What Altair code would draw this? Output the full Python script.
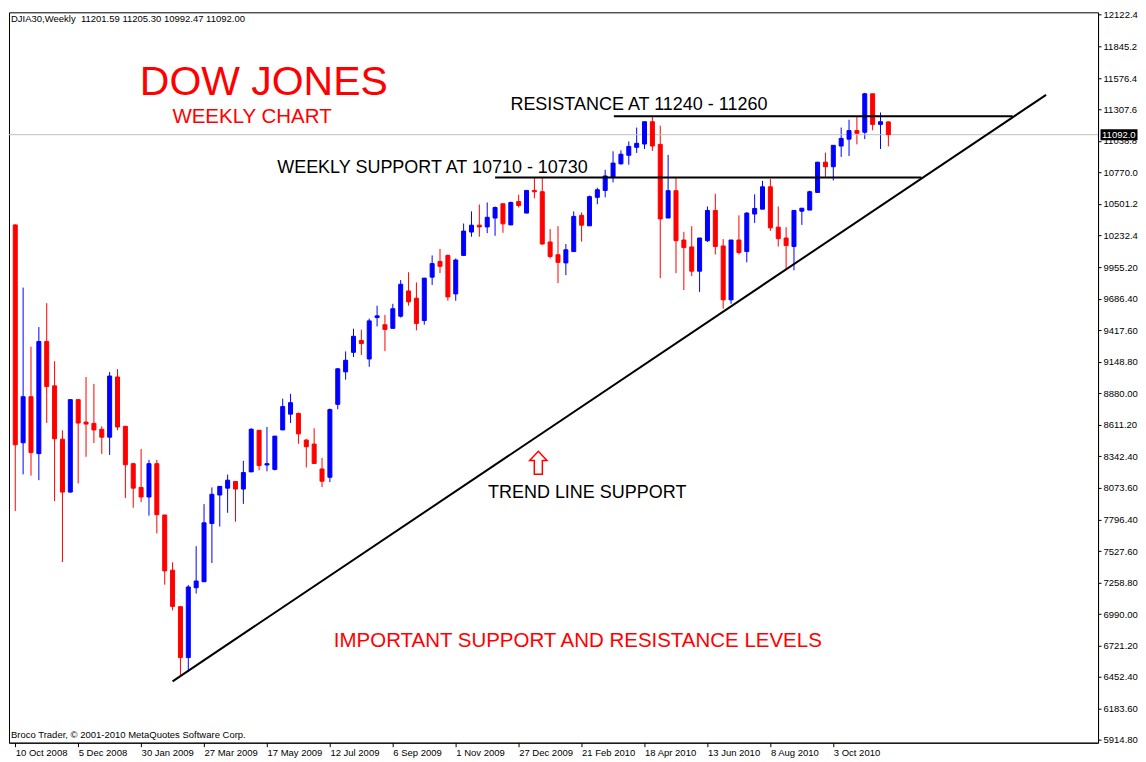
import json
import altair as alt
import pandas as pd

# ---------------- data ----------------
date_labels = ["10 Oct 2008", "5 Dec 2008", "30 Jan 2009", "27 Mar 2009", "17 May 2009",
               "12 Jul 2009", "6 Sep 2009", "1 Nov 2009", "27 Dec 2009", "21 Feb 2010",
               "18 Apr 2010", "13 Jun 2010", "8 Aug 2010", "3 Oct 2010"]

opens = [10320, 8456, 8850, 8363, 9322, 8943, 8487, 8034, 8825, 8633,
         8622, 8572, 8504, 9019, 8597, 8277, 8074, 7992, 8277, 7838,
         7366, 7054, 6618, 7216, 7267, 7765, 8009, 8068, 8125, 8060,
         8207, 8563, 8266, 8228, 8566, 8701, 8707, 8479, 8445, 8232,
         8161, 8785, 9063, 9230, 9331, 9173, 9527, 9466, 9435, 9539,
         9755, 9693, 9502, 9873, 10008, 10059, 9730, 10059, 10259, 10318,
         10303, 10379, 10501, 10320, 10520, 10421, 10615, 10604, 10174, 10065,
         9995, 10092, 10402, 10312, 10556, 10615, 10725, 10843, 10916, 10984,
         11012, 11203, 11009, 10379, 10613, 10191, 10132, 9924, 10185, 10444,
         10140, 9679, 10191, 10092, 10413, 10455, 10646, 10301, 10208, 10135,
         10438, 10447, 10598, 10857, 10818, 10995, 11054, 11127, 11113, 11442,
         11180, 11201.59]
highs = [10325, 9784, 9278, 9446, 9651, 9154, 8563, 8830, 8830, 9019,
         8960, 8597, 9061, 9086, 8597, 8285, 8403, 8310, 8310, 7840,
         7433, 7054, 7239, 7571, 7931, 8074, 8083, 8184, 8125, 8302,
         8580, 8563, 8591, 8513, 8833, 8875, 8715, 8490, 8580, 8327,
         8749, 9095, 9238, 9432, 9424, 9519, 9629, 9550, 9645, 9848,
         9915, 9828, 9865, 10059, 10115, 10067, 10033, 10332, 10436, 10495,
         10512, 10478, 10501, 10520, 10579, 10615, 10725, 10725, 10284, 10309,
         10157, 10436, 10427, 10571, 10638, 10792, 10950, 10959, 11034, 11153,
         11203, 11245, 11169, 10919, 10722, 10261, 10309, 10208, 10478, 10587,
         10199, 10191, 10402, 10430, 10582, 10697, 10714, 10478, 10301, 10444,
         10463, 10613, 10857, 10939, 11001, 11153, 11220, 11245, 11450, 11442,
         11282, 11205.30]
lows = [7872, 8186, 8175, 8136, 8625, 7956, 7436, 8030, 8108, 8336,
        8454, 8361, 8352, 8563, 7984, 7900, 7948, 7832, 7680, 7242,
        7022, 6457, 6494, 7166, 7267, 7427, 7739, 7857, 7781, 7933,
        8207, 8220, 8212, 8220, 8566, 8625, 8448, 8245, 8279, 8077,
        8119, 8743, 8996, 9190, 9207, 9106, 9451, 9241, 9435, 9527,
        9629, 9418, 9466, 9806, 9907, 9671, 9671, 10059, 10219, 10219,
        10250, 10227, 10253, 10320, 10469, 10421, 10548, 10149, 10033, 9822,
        9890, 10092, 10177, 10312, 10497, 10556, 10683, 10835, 10835, 10936,
        10970, 10953, 9865, 10379, 9907, 9763, 9882, 9747, 10174, 10067,
        9603, 9645, 10067, 10000, 10337, 10455, 10269, 10135, 9936, 9932,
        10320, 10447, 10598, 10722, 10700, 10902, 10910, 11009, 11054, 11130,
        10970, 10992.47]
closes = [8439, 8850, 8372, 9322, 8937, 8490, 8034, 8825, 8625, 8616,
          8566, 8504, 9027, 8591, 8268, 8068, 7992, 8277, 7841, 7360,
          7056, 6618, 7222, 7273, 7771, 8015, 8083, 8136, 8060, 8201,
          8572, 8262, 8277, 8513, 8766, 8799, 8532, 8422, 8279, 8127,
          8740, 9089, 9162, 9367, 9305, 9499, 9542, 9426, 9603, 9812,
          9662, 9477, 9865, 9989, 9966, 9704, 10020, 10267, 10318, 10303,
          10385, 10469, 10329, 10512, 10486, 10615, 10604, 10157, 10050, 10000,
          10107, 10393, 10318, 10562, 10621, 10739, 10849, 10925, 10992, 11018,
          11203, 10995, 10371, 10613, 10185, 10126, 9924, 10208, 10444, 10135,
          9679, 10191, 10084, 10421, 10461, 10646, 10295, 10202, 10143, 10444,
          10463, 10604, 10857, 10818, 11001, 11060, 11127, 11104, 11442, 11180,
          11203, 11092.00]

y_ticks = [12122.4, 11845.2, 11576.4, 11307.6, 11038.8, 10770.0, 10501.2, 10232.4,
           9955.2, 9686.4, 9417.6, 9148.8, 8880.0, 8611.2, 8342.4, 8073.6, 7796.4,
           7527.6, 7258.8, 6990.0, 6721.2, 6452.4, 6183.6, 5914.8]

last_price = 11092.0
header = "DJIA30,Weekly\u00a0 11201.59 11205.30 10992.47 11092.00"
copyright_txt = "Broco Trader, \u00a9 2001-2010 MetaQuotes Software Corp."

# drawn lines: (x index start, price start, x index end, price end)
seg_x1 = [76.1, 61.0, 20.0]
seg_y1 = [11250, 10725, 6415]
seg_x2 = [126.8, 115.2, 131.05]
seg_y2 = [11250, 10725, 11433]

# ---------------- layout ----------------
W = 1090
H = 731
FONT = "Liberation Sans"

candles = pd.DataFrame({
    "i": list(range(len(opens))),
    "open": opens, "high": highs, "low": lows, "close": closes,
})
candles["dir"] = ["up" if c >= o else "down" for o, c in zip(opens, closes)]

xs = alt.Scale(domain=[-0.16, 137.02], nice=False, zero=False)
ys = alt.Scale(domain=[5890, 12139], nice=False, zero=False)
col = alt.Scale(domain=["up", "down"], range=["#0000FF", "#FF0000"])

label_expr = json.dumps(date_labels) + "[round(datum.value / 8)]"

x_axis = alt.Axis(values=list(range(0, 8 * len(date_labels), 8)), labelExpr=label_expr,
                  title=None, grid=False, tickSize=4, tickColor="black", domainColor="black",
                  labelAlign="left", labelBaseline="top", labelPadding=1,
                  labelFont=FONT, labelFontSize=9.5, labelColor="black",
                  labelFlush=False, labelOverlap=False)
y_axis = alt.Axis(orient="right", values=y_ticks, format=".6r", title=None, grid=False,
                  tickSize=3, tickColor="black", domainColor="black", labelPadding=2,
                  labelFont=FONT, labelFontSize=9.5, labelColor="black",
                  labelFlush=False, labelOverlap=False)


def X(field):
    return alt.X(field, scale=xs, axis=x_axis)


def Y(field):
    return alt.Y(field, scale=ys, axis=y_axis)


base = alt.Chart(candles)

wicks = base.mark_rule(strokeWidth=1, clip=True).encode(
    x=X("i:Q"),
    y=Y("low:Q"),
    y2="high:Q",
    color=alt.Color("dir:N", scale=col, legend=None),
)

bodies = base.mark_bar(size=4, strokeWidth=1, clip=True).encode(
    x=X("i:Q"),
    y=Y("open:Q"),
    y2="close:Q",
    fill=alt.Fill("dir:N", scale=col, legend=None),
    stroke=alt.Stroke("dir:N", scale=col, legend=None),
)

price_df = pd.DataFrame({"p": [last_price], "t": [f"{last_price:.1f}"]})
price_line = alt.Chart(price_df).mark_rule(color="#C0C0C0", strokeWidth=1).encode(
    y=Y("p:Q")
)

segs = pd.DataFrame({"x1": seg_x1, "y1": seg_y1, "x2": seg_x2, "y2": seg_y2})
lines = alt.Chart(segs).mark_rule(color="black", strokeWidth=2, clip=True).encode(
    x=X("x1:Q"),
    y=Y("y1:Q"),
    x2="x2:Q",
    y2="y2:Q",
)

price_box = alt.Chart(price_df).mark_tick(orient="horizontal", size=37, thickness=11,
                                          color="black", opacity=1).encode(
    x=alt.value(W + 21),
    y=Y("p:Q"),
)
price_txt = alt.Chart(price_df).mark_text(align="left", baseline="middle", font=FONT,
                                          fontSize=9.5, color="white").encode(
    x=alt.value(W + 4),
    y=Y("p:Q"),
    text="t:N",
)


def label(text, xi, yp, size, color, align="left"):
    d = pd.DataFrame({"x": [xi], "y": [yp], "t": [text]})
    return alt.Chart(d).mark_text(align=align, baseline="alphabetic", font=FONT,
                                  fontSize=size, color=color).encode(
        x=X("x:Q"),
        y=Y("y:Q"),
        text="t:N",
    )


labels = [
    label("DOW JONES", 31.6, 11430, 41, "#FF0000", "center"),
    label("WEEKLY CHART", 30.1, 11190, 20.5, "#FF0000", "center"),
    label("RESISTANCE AT 11240 - 11260", 62.95, 11300, 18, "black"),
    label("WEEKLY SUPPORT AT 10710 - 10730", 33.3, 10767, 18, "black"),
    label("TREND LINE SUPPORT", 60.1, 7986, 18, "black"),
    label("IMPORTANT SUPPORT AND RESISTANCE LEVELS", 40.5, 6705, 20.5, "#FF0000"),
]

arrow_df = pd.DataFrame({"x": [66.5], "y": [8285]})
arrow = alt.Chart(arrow_df).mark_point(
    shape="M0,-1 L0.75,-0.2 L0.35,-0.2 L0.35,1 L-0.35,1 L-0.35,-0.2 L-0.75,-0.2 Z",
    size=529, filled=True, fill="white", stroke="#FF0000", strokeWidth=1.5, opacity=1,
).encode(
    x=X("x:Q"),
    y=Y("y:Q"),
)

hdr_df = pd.DataFrame({"t": [header]})
hdr = alt.Chart(hdr_df).mark_text(align="left", baseline="top", font=FONT, fontSize=9.5,
                                  color="black").encode(
    x=alt.value(2), y=alt.value(2), text="t:N")

cp_df = pd.DataFrame({"t": [copyright_txt]})
cp = alt.Chart(cp_df).mark_text(align="left", baseline="alphabetic", font=FONT,
                                fontSize=9.5, color="black").encode(
    x=alt.value(2), y=alt.value(H - 5), text="t:N")

chart = alt.layer(
    wicks, price_line, bodies, lines, *labels, arrow, hdr, cp, price_box, price_txt
).properties(
    width=W, height=H, padding=0, background="white"
).configure_view(
    stroke="black", strokeWidth=1
)

chart.save("out.html", embed_options={"renderer": "svg", "actions": False})
